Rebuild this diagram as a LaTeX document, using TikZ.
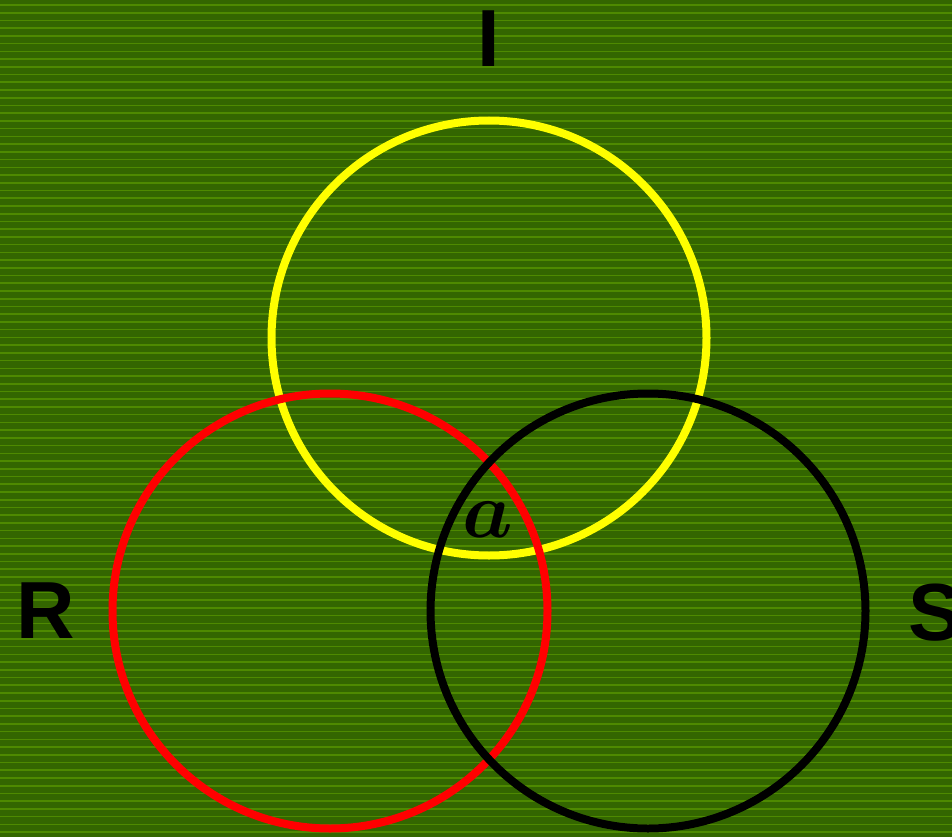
\documentclass[tikz,border=0pt]{standalone}
\usepackage{fix-cm}
\usepackage{fontspec}
\setmainfont{Liberation Sans}
\definecolor{bgdark}{RGB}{51,102,0}
\definecolor{bglight}{RGB}{78,138,0}
\definecolor{ringyellow}{RGB}{255,255,0}
\definecolor{ringred}{RGB}{255,0,0}
\tikzset{
  ring/.style={line width=8pt},
  setlabel/.style={font=\fontsize{81}{81}\selectfont\bfseries, text=black, inner sep=0pt, anchor=base},
}
\begin{document}
\begin{tikzpicture}[x=1pt,y=-1pt]
\useasboundingbox (0,0) rectangle (952,837);
\fill[bgdark] (0,0) rectangle (952,837);
\foreach \k in {0,...,108} {
  \draw[bglight, line width=1.6pt] (0,5+7.73*\k) -- (952,5+7.73*\k);
}
\coordinate (cI) at (489,338);
\coordinate (cR) at (330,611);
\coordinate (cS) at (648,611);
\draw[ring, ringyellow] (cI) circle (217.5);
\draw[ring, ringred] (cR) circle (217.5);
\draw[ring, black] (cS) circle (217.5);
\node[setlabel] (lI) at (489,67) {I};
\node[setlabel] (lR) at (45.5,638) {R};
\node[setlabel] (lS) at (935,640) {S};
\node[inner sep=0pt, anchor=base, font=\fontsize{80}{80}\selectfont\boldmath] (la) at (488,537) {$a$};
\end{tikzpicture}
\end{document}
